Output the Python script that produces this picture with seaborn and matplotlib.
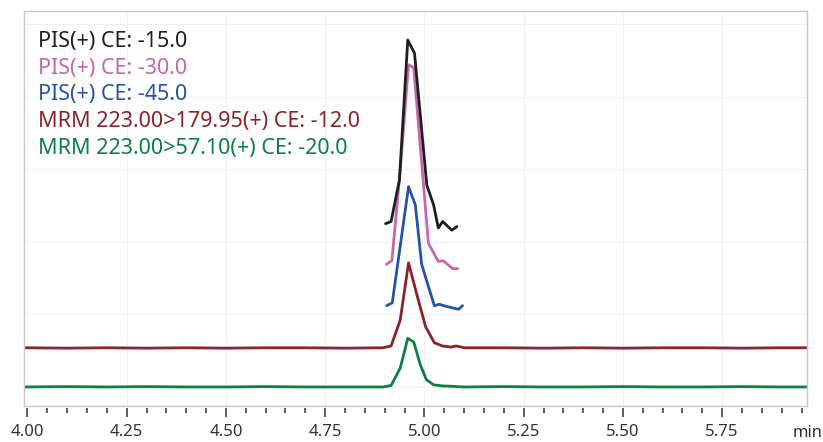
import numpy as np
import pandas as pd
import seaborn as sns
import matplotlib.pyplot as plt
from matplotlib.ticker import MultipleLocator, FormatStrFormatter

# retention time (min) and intensity for each trace
pis15_t = [4.902, 4.916, 4.937, 4.958, 4.975, 5.006, 5.023, 5.035, 5.046, 5.069, 5.082]
pis15_y = [2.25, 2.28, 2.85, 4.78, 4.60, 2.78, 2.51, 2.19, 2.28, 2.16, 2.21]

pis30_t = [4.904, 4.918, 4.938, 4.960, 4.973, 5.010, 5.035, 5.047, 5.071, 5.084]
pis30_y = [1.69, 1.74, 2.92, 4.44, 4.40, 1.98, 1.73, 1.74, 1.63, 1.63]

pis45_t = [4.905, 4.919, 4.960, 4.977, 4.993, 5.025, 5.038, 5.048, 5.086, 5.096]
pis45_y = [1.12, 1.16, 2.76, 2.51, 1.69, 1.12, 1.14, 1.12, 1.07, 1.12]

mrm179_t = [3.99, 4.10, 4.20, 4.30, 4.40, 4.50, 4.60, 4.70, 4.80, 4.895, 4.916, 4.939, 4.960,
            4.982, 5.003, 5.025, 5.045, 5.067, 5.080, 5.100, 5.20, 5.30, 5.40, 5.50, 5.60,
            5.70, 5.80, 5.90, 5.97]
mrm179_y = [0.54, 0.535, 0.54, 0.535, 0.54, 0.535, 0.54, 0.54, 0.535, 0.54, 0.565, 0.92, 1.71,
            1.25, 0.83, 0.61, 0.565, 0.55, 0.565, 0.54, 0.54, 0.535, 0.54, 0.535, 0.54,
            0.54, 0.535, 0.54, 0.54]

mrm57_t = [3.99, 4.10, 4.20, 4.30, 4.40, 4.50, 4.60, 4.70, 4.80, 4.895, 4.916, 4.939, 4.958,
           4.973, 4.990, 5.005, 5.023, 5.045, 5.067, 5.10, 5.20, 5.30, 5.40, 5.50, 5.60,
           5.70, 5.80, 5.90, 5.97]
mrm57_y = [0.0, 0.005, 0.0, 0.005, 0.0, 0.0, 0.005, 0.0, 0.0, 0.0, 0.02, 0.26, 0.67,
           0.62, 0.30, 0.10, 0.03, 0.015, 0.01, 0.0, 0.005, 0.0, 0.0, 0.005, 0.0,
           0.0, 0.005, 0.0, 0.0]

labels = ["PIS(+) CE: -15.0", "PIS(+) CE: -30.0", "PIS(+) CE: -45.0",
          "MRM 223.00>179.95(+) CE: -12.0", "MRM 223.00>57.10(+) CE: -20.0"]
colors = ["#1e1e1e", "#c766ab", "#2553a6", "#8b2228", "#0a8045"]
series = [(pis15_t, pis15_y), (pis30_t, pis30_y), (pis45_t, pis45_y),
          (mrm179_t, mrm179_y), (mrm57_t, mrm57_y)]

sns.set_style("white")
plt.rcParams['font.family'] = ['Noto Sans', 'DejaVu Sans']

fig = plt.figure(figsize=(8.23, 4.42), dpi=100)
ax = fig.add_axes([23.5 / 823, (442 - 405.7) / 442, (806.7 - 23.5) / 823, (405.7 - 11) / 442])

# draw bottom traces first so the black one sits on top
for (t, y), c in reversed(list(zip(series, colors))):
    df = pd.DataFrame({"t": t, "y": y})
    sns.lineplot(data=df, x="t", y="y", color=c, lw=2.0, ax=ax)

ax.set_xlim(3.99, 5.963)
ax.set_ylim(-0.258, 5.18)
ax.xaxis.set_major_locator(MultipleLocator(0.25))
ax.yaxis.set_major_locator(MultipleLocator(1))
ax.grid(True, color="#f0f0f0", lw=0.8)
ax.tick_params(axis="both", length=0, labelbottom=False, labelleft=False)
ax.set_xlabel("")
ax.set_ylabel("")
for s in ax.spines.values():
    s.set_color("#c8c8c8")
    s.set_linewidth(1.0)

# tick marks sit a little below the frame
sec = ax.secondary_xaxis(-0.007)
sec.spines["bottom"].set_visible(False)
sec.xaxis.set_major_locator(MultipleLocator(0.25))
sec.xaxis.set_minor_locator(MultipleLocator(0.05))
sec.xaxis.set_major_formatter(FormatStrFormatter("%.2f"))
sec.tick_params(which="major", length=6.5, width=1.1, color="#333333", labelsize=12,
                labelcolor="#333333", pad=4.5)
sec.tick_params(which="minor", length=3.6, width=1.1, color="#333333")
sec.set_xticks([4.0, 4.25, 4.5, 4.75, 5.0, 5.25, 5.5, 5.75])

fig.text(808 / 823, (442 - 433) / 442, "min", ha="center", va="center",
         fontsize=12, color="#333333")

for i, (lab, c) in enumerate(zip(labels, colors)):
    fig.text(38 / 823, (442 - (41.5 + i * 26.7)) / 442, lab, color=c, fontsize=15.5,
             ha="left", va="center")

fig.savefig("out.png", dpi=100)
